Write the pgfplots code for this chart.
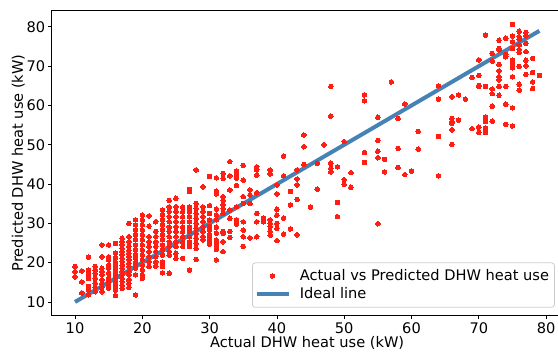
\documentclass[border=0pt]{standalone}
\usepackage{pgfplots}
\pgfplotsset{compat=1.18}
\usepackage{fontspec}
\setmainfont{DejaVu Sans}
\definecolor{ptred}{RGB}{255,30,20}
\definecolor{lineblue}{RGB}{70,130,180}
\definecolor{legframe}{RGB}{204,204,204}
\pgfplotsset{
  mklegend/.style={legend image code/.code={\draw[mark repeat=2,mark phase=2,##1] plot coordinates {(0pt,0pt) (15pt,0pt) (30pt,0pt)};}},
  lnlegend/.style={legend image code/.code={\draw[##1] (0pt,0pt) -- (32pt,0pt);}}
}
\begin{document}
\fontsize{14.6}{17}\selectfont
\begin{tikzpicture}[x=1pt,y=1pt]
\begin{axis}[
  at={(51.8pt,37.3pt)}, anchor=south west,
  scale only axis, width=510.8pt, height=305.7pt,
  xmin=6.55, xmax=82.45, ymin=6.5, ymax=84.3,
  xtick={10,20,30,40,50,60,70,80}, ytick={10,20,30,40,50,60,70,80},
  tick align=outside, major tick length=3.5pt,
  xtick pos=bottom, ytick pos=left,
  every tick/.style={black, line width=0.8pt},
  axis line style={line width=0.8pt},
  tick label style={font=\fontsize{14.6}{17}\selectfont, inner sep=3pt},
  /pgf/number format/assume math mode=true,
  label style={font=\fontsize{14.6}{17}\selectfont},
  xlabel={Actual DHW heat use (kW)},
  ylabel={Predicted DHW heat use (kW)},
  xlabel style={at={(axis description cs:0.5,0)}, anchor=base, yshift=-31.6pt},
  ylabel style={at={(axis description cs:-0.0656,0.5)}, anchor=center},
  legend style={at={(0.985,0.026)}, anchor=south east, draw=legframe, line width=0.8pt,
    rounded corners=3pt, fill=white, font=\fontsize{14.6}{17}\selectfont,
    inner xsep=3pt, inner ysep=5pt, row sep=2pt,
    nodes={inner xsep=2.5pt, inner ysep=1.5pt}},
  legend cell align=left,
  /tikz/every odd column/.append style={column sep=6pt},
]
\addplot[only marks, mark=*, mark size=2.3pt, mark options={draw=ptred, fill=ptred, line width=0pt}, mklegend]
coordinates {
(10,19.0) (10,17.7) (10,16.4)
(11,17.9) (11,15.1) (11,12.3)
(12,21.4) (12,18.1) (12,17.1) (12,16.0) (12,13.9) (12,13.0) (12,11.8)
(13,19.0) (13,18.1) (13,17.3) (13,16.0) (13,14.75) (13,13.7) (13,12.6)
(14,24.5) (14,21.5) (14,18.6) (14,17.7) (14,16.9) (14,15.6) (14,14.75) (14,13.7) (14,12.6)
(15,24.5) (15,21.5) (15,20.7) (15,19.4) (15,18.6) (15,17.3) (15,16.0) (15,15.2) (15,14.3) (15,13.5)
(16,24.9) (16,22.4) (16,21.1) (16,19.8) (16,19.0) (16,18.1) (16,17.3) (16,16.4) (16,15.6) (16,14.75) (16,13.9) (16,13.0) (16,11.6)
(17,26.2) (17,25.3) (17,24.5) (17,23.7) (17,22.8) (17,22.0) (17,21.1) (17,20.3) (17,19.4) (17,18.6) (17,17.7) (17,16.9) (17,16.0) (17,15.2) (17,14.3) (17,13.5)
(18,30.0) (18,26.6) (18,25.3) (18,24.1) (18,23.2) (18,22.4) (18,21.5) (18,20.7) (18,19.8) (18,19.0) (18,17.7) (18,16.9) (18,15.6) (18,14.75) (18,13.7)
(19,30.9) (19,29.6) (19,28.3) (19,27.0) (19,25.8) (19,24.5) (19,23.2) (19,22.0) (19,21.1) (19,19.8) (19,18.6) (19,16.9) (19,11.8)
(20,32.1) (20,30.8) (20,29.6) (20,28.3) (20,27.0) (20,25.8) (20,24.5) (20,23.2) (20,21.9) (20,20.7) (20,19.4) (20,18.1) (20,16.8) (20,16.0)
(21,31.9) (21,29.3) (21,26.6) (21,25.3) (21,24.1) (21,22.8) (21,21.5) (21,20.2) (21,19.0)
(22,30.4) (22,27.9) (22,26.6) (22,25.3) (22,24.1) (22,22.8) (22,21.5) (22,20.2) (22,19.1)
(23,33.4) (23,32.1) (23,30.8) (23,29.6) (23,28.3) (23,27.0) (23,25.8) (23,24.5) (23,23.2) (23,21.9) (23,20.2) (23,19.0) (23,17.4)
(24,35.8) (24,34.2) (24,33.0) (24,31.7) (24,30.4) (24,29.1) (24,27.9) (24,26.6) (24,25.3) (24,24.1) (24,22.8) (24,21.9) (24,17.3)
(25,36.4) (25,34.2) (25,33.0) (25,31.7) (25,30.4) (25,29.1) (25,27.9) (25,26.6) (25,25.3) (25,24.1) (25,22.4) (25,21.1)
(26,34.2) (26,33.0) (26,31.7) (26,30.4) (26,29.1) (26,27.9) (26,26.6) (26,25.3) (26,24.1) (26,21.1)
(27,38.6) (27,38.1) (27,34.2) (27,33.0) (27,31.7) (27,30.4) (27,29.1) (27,27.9) (27,26.6) (27,25.3) (27,24.1) (27,18.1)
(28,43.6) (28,35.1) (28,33.8) (28,32.5) (28,31.3) (28,30.0) (28,28.7) (28,27.5) (28,26.2) (28,24.9) (28,23.6) (28,20.8)
(29,39.3) (29,34.2) (29,33.0) (29,31.7) (29,30.4) (29,29.1) (29,27.9) (29,26.6) (29,25.8)
(30,41.9) (30,34.5) (30,32.5) (30,30.8) (30,29.2) (30,28.3) (30,27.0) (30,26.4) (30,25.3) (30,24.7)
(31,41.6) (31,38.2) (31,37.5) (31,33.6) (31,32.1) (31,30.9) (31,29.0) (31,27.5) (31,25.8) (31,25.1) (31,24.1) (31,23.4) (31,20.7)
(32,42.7) (32,41.5) (32,36.8) (32,35.9) (32,34.7) (32,33.8) (32,32.5) (32,27.9) (32,27.5) (32,25.3) (32,22.8)
(33,45.7) (33,42.1) (33,38.5) (33,33.4) (33,31.3) (33,27.9) (33,26.4)
(34,43.3) (34,42.3) (34,41.5) (34,39.6) (34,34.2) (34,30.9) (34,29.8)
(35,44.7) (35,41.0) (35,36.8) (35,35.1) (35,30.4) (35,28.3) (35,26.6) (35,24.1)
(36,38.5) (36,37.2) (36,35.1) (36,26.3)
(37,44.4) (37,43.6) (37,42.3) (37,37.8) (37,32.5) (37,30.4) (37,26.6)
(38,31.3) (38,30.4)
(39,43.6) (39,42.6) (39,30.9) (39,30.0) (39,29.2) (39,27.9) (39,27.0)
(40,39.8) (40,37.5) (40,33.6) (40,32.1) (40,30.0) (40,28.7) (40,25.6)
(41,47.1) (41,42.1) (41,31.3) (41,27.3)
(42,38.1) (42,34.7) (42,28.6)
(43,43.6) (43,41.3) (43,39.8) (43,36.1) (43,27.1)
(44,52.5) (44,49.5) (44,45.0)
(45,34.1)
(46,45.3) (46,38.7)
(47,50.0)
(48,64.8) (48,57.3) (48,45.3) (48,44.0) (48,43.1)
(49,44.4) (49,35.3) (49,31.7)
(50,50.8) (50,41.1) (50,39.9)
(51,42.9) (51,39.2)
(53,62.7) (53,61.2) (53,48.0) (53,45.5)
(55,57.0) (55,51.1) (55,48.4) (55,46.7) (55,29.9)
(56,46.3) (56,43.1)
(57,66.0)
(58,56.7) (58,49.1) (58,44.2)
(59,60.4) (59,42.4)
(60,43.3)
(61,53.4) (61,48.9)
(64,65.0) (64,61.6) (64,52.1) (64,42.1)
(66,62.2) (66,56.7) (66,55.9) (66,55.5) (66,53.8) (66,50.1)
(67,62.7) (67,56.3)
(68,61.6)
(69,67.1) (69,54.1)
(70,71.6) (70,67.6) (70,65.1) (70,64.8) (70,54.5) (70,53.1)
(71,77.9) (71,64.8) (71,57.1) (71,55.9) (71,54.2) (71,53.1)
(72,73.2) (72,71.3) (72,64.2) (72,63.0) (72,59.8) (72,56.0)
(73,76.6) (73,74.5) (73,74.1) (73,70.4) (73,68.8) (73,67.3) (73,66.5) (73,64.8) (73,62.6)
(74,77.1) (74,73.0) (74,72.4) (74,64.8) (74,60.3) (74,55.2)
(75,80.6) (75,77.7) (75,76.2) (75,74.5) (75,71.5) (75,70.9) (75,70.3) (75,69.6) (75,67.3) (75,59.4) (75,54.8)
(76,78.9) (76,77.5) (76,76.9) (76,75.4) (76,74.2) (76,73.5) (76,69.9) (76,65.4) (76,63.9)
(77,78.6) (77,77.7) (77,75.8) (77,73.7) (77,71.5) (77,70.1) (77,67.9)
(78,72.0) (78,68.4) (78,66.0) (78,64.3)
(79,67.6)
};
\addlegendentry{Actual vs Predicted DHW heat use}
\addplot[lineblue, line width=4pt, lnlegend]
coordinates {(10,10) (79,79)};
\addlegendentry{Ideal line}
\end{axis}
\pgfresetboundingbox
\useasboundingbox (0,0) rectangle (558pt,353pt);
\end{tikzpicture}
\end{document}
